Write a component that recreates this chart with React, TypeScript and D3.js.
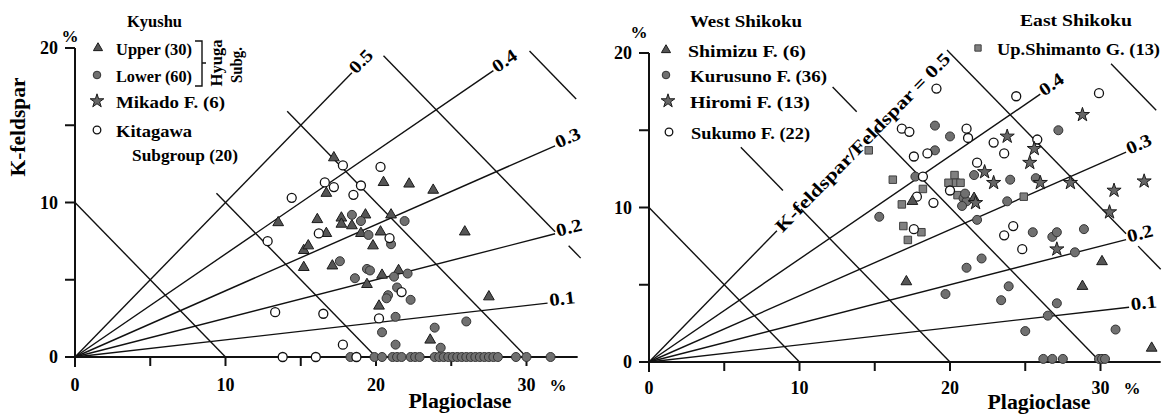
import React from 'react';
import * as d3 from 'd3';

type Pt = [number, number]; // [Plagioclase %, K-feldspar %]

// ---------- reference grid ----------
const ratioValues = [0.1, 0.2, 0.3, 0.4, 0.5];
const ratioLabels = ['0.1', '0.2', '0.3', '0.4', '0.5'];
const sumValues = [10, 20, 30, 40, 50];
const xTickValues = [0, 5, 10, 15, 20, 25, 30];
const xTickLabels = ['0', '10', '20', '30'];
const yTickValues = [0, 5, 10, 15, 20];
const yTickLabels = ['0', '10', '20'];

// ---------- Kyushu (left) ----------
const kyushuUpper: Pt[] = [
  [17.2, 12.9], [20.5, 11.3], [22.2, 11.2], [23.8, 10.8], [16.7, 10.6], [13.5, 8.7],
  [16.1, 8.9], [17.7, 9.0], [17.7, 8.6], [19.3, 9.2], [18.4, 8.5], [21.0, 9.2],
  [25.9, 8.1], [16.7, 8.0], [19.0, 8.0], [20.3, 8.1], [19.8, 7.2], [15.2, 6.9],
  [15.5, 7.2], [15.2, 5.8], [17.1, 5.9], [20.4, 5.3], [21.5, 5.6], [19.4, 4.7],
  [27.5, 3.9], [20.2, 3.3], [23.6, 1.1],
];
const kyushuLower: Pt[] = [
  [18.4, 9.2], [19.0, 8.8], [21.9, 8.8], [19.5, 7.9], [21.0, 7.3], [17.6, 6.2],
  [19.4, 5.7], [19.6, 5.6], [18.6, 5.1], [21.2, 5.2], [22.1, 5.4], [21.4, 4.5],
  [20.8, 4.0], [20.7, 3.8], [22.3, 3.7], [21.3, 2.6], [26.0, 2.3], [20.4, 1.6],
  [23.9, 1.9], [21.3, 0.8], [24.3, 0.6],
  [18.3, 0], [19.9, 0], [20.4, 0], [21.1, 0], [21.4, 0], [21.7, 0], [22.3, 0],
  [22.6, 0], [22.9, 0], [23.9, 0], [24.2, 0], [24.5, 0], [24.8, 0], [25.1, 0],
  [25.4, 0], [25.7, 0], [26.0, 0], [26.3, 0], [26.6, 0], [26.9, 0], [27.2, 0],
  [27.5, 0], [27.8, 0], [28.1, 0], [29.3, 0], [30.0, 0], [31.6, 0],
];
const kyushuMikado: Pt[] = [];
const kyushuKitagawa: Pt[] = [
  [13.8, 0], [16.0, 0], [18.7, 0], [12.8, 7.5], [13.3, 2.9], [14.4, 10.3],
  [16.6, 11.3], [17.2, 11.0], [17.8, 12.4], [20.3, 12.3], [19.0, 11.1], [18.5, 10.5],
  [16.2, 8.0], [20.9, 7.7], [21.7, 4.2], [16.5, 2.8], [20.2, 2.5], [17.8, 0.8],
];

// ---------- Shikoku (right) ----------
const shimizu: Pt[] = [[17.5, 10.4], [17.1, 5.2], [28.8, 4.9], [30.1, 6.5], [33.4, 0.9], [21.6, 10.6]];
const kurusuno: Pt[] = [
  [19.0, 15.3], [20.0, 14.6], [27.2, 15.0], [19.0, 13.7], [17.7, 12.0], [21.6, 12.1],
  [24.0, 11.8], [25.7, 11.9], [23.8, 10.4], [20.9, 10.6], [21.1, 10.4], [20.8, 10.1],
  [21.0, 10.9], [15.3, 9.4], [21.8, 9.2], [25.5, 8.4], [26.8, 8.1], [27.1, 8.4],
  [28.9, 8.6], [28.3, 7.1], [22.1, 6.7], [21.1, 6.1], [19.7, 4.4], [23.9, 4.9],
  [23.4, 4.0], [27.1, 3.8], [26.5, 3.0], [25.0, 2.0], [31.0, 2.1],
  [26.2, 0.2], [26.8, 0.2], [27.5, 0.2], [29.9, 0.2], [30.1, 0.2], [30.3, 0.2],
];
const hiromi: Pt[] = [
  [28.8, 16.0], [23.8, 14.6], [25.6, 13.8], [25.3, 12.9], [22.3, 12.3], [22.9, 11.6],
  [26.0, 11.6], [28.0, 11.6], [32.9, 11.7], [30.9, 11.1], [21.7, 10.3], [30.6, 9.7],
  [27.1, 7.3],
];
const sukumo: Pt[] = [
  [19.1, 17.7], [16.8, 15.1], [17.3, 14.9], [21.1, 15.1], [21.2, 14.5], [17.6, 13.3],
  [18.5, 13.5], [24.4, 17.2], [29.9, 17.4], [22.9, 14.2], [25.8, 14.4], [23.6, 13.5],
  [21.8, 12.9], [18.2, 12.0], [20.0, 11.1], [17.8, 10.7], [18.9, 10.3], [17.6, 8.6],
  [23.6, 8.2], [24.2, 8.8], [24.8, 7.3],
];
const upShimanto: Pt[] = [
  [14.6, 13.7], [16.2, 11.8], [18.2, 11.2], [16.8, 10.2], [16.9, 8.8], [18.1, 8.4],
  [17.2, 7.9], [20.3, 12.1], [20.4, 11.6], [19.9, 11.6], [20.7, 11.6], [20.5, 10.8],
  [24.9, 10.7],
];

// ---------- layout ----------
const FONT = "'Liberation Serif', 'DejaVu Serif', serif";
const PX_X = 15.05;
const PX_Y = 15.45;

type MarkerType = 'tri' | 'circ' | 'star' | 'open' | 'sq';

interface PanelCfg {
  x0: number;
  y0: number;
  xAxisEnd: number;
  ratioEnds: number[];
  sumSegments: number[][][];
  longRatioLabel: boolean;
  pctY: number;
  pctX: number;
  yTitle: boolean;
  titleX: number;
  titleY: number;
  xLabelY: number;
}

const leftCfg: PanelCfg = {
  x0: 75, y0: 357, xAxisEnd: 33.4,
  ratioEnds: [31.4, 31.9, 31.9, 27.8, 18.4],
  sumSegments: [[[0, 10]], [[9.4, 20]], [[14.1, 30]], [[20.5, 31.9], [32.8, 33.6]], [[30.2, 33.3]]],
  longRatioLabel: false, pctY: 42, pctX: 70, yTitle: true, titleX: 460, titleY: 408, xLabelY: 391,
};
const rightCfg: PanelCfg = {
  x0: 649, y0: 362, xAxisEnd: 34,
  ratioEnds: [31.9, 31.7, 31.7, 26.0, 8.5],
  sumSegments: [[[0, 10]], [[6.1, 8.9], [10.1, 20]], [[12.2, 13.8], [15.0, 30]], [[19.8, 31.7], [32.5, 34]], [[30.7, 33.7]]],
  longRatioLabel: true, pctY: 38, pctX: 639, yTitle: false, titleX: 1039, titleY: 409, xLabelY: 394,
};

const triPath = d3.symbol(d3.symbolTriangle, 50)()!;
const starPath = d3.symbol(d3.symbolStar, 62)()!;
const sqPath = d3.symbol(d3.symbolSquare, 56)()!;
const triPathS = d3.symbol(d3.symbolTriangle, 36)()!;
const starPathS = d3.symbol(d3.symbolStar, 58)()!;
const sqPathS = d3.symbol(d3.symbolSquare, 40)()!;

function Marker({ t, x, y, small }: { t: MarkerType; x: number; y: number; small?: boolean }) {
  const tr = `translate(${x},${y})`;
  switch (t) {
    case 'tri':
      return <path d={small ? triPathS : triPath} transform={tr} fill="#555" stroke="#1a1a1a" strokeWidth={1} />;
    case 'star':
      return <path d={small ? starPathS : starPath} transform={tr} fill="#666" stroke="#1a1a1a" strokeWidth={1} />;
    case 'sq':
      return <path d={small ? sqPathS : sqPath} transform={tr} fill="#808080" stroke="#404040" strokeWidth={1} />;
    case 'circ':
      return <circle cx={x} cy={y} r={small ? 3.8 : 4.5} fill="#707070" stroke="#333" strokeWidth={1} />;
    default:
      return <circle cx={x} cy={y} r={small ? 3.8 : 4.5} fill="#fff" stroke="#111" strokeWidth={1.3} />;
  }
}

function Panel({ cfg, series }: { cfg: PanelCfg; series: { t: MarkerType; pts: Pt[] }[] }) {
  const xs = d3.scaleLinear().domain([0, 10]).range([cfg.x0, cfg.x0 + 10 * PX_X]);
  const ys = d3.scaleLinear().domain([0, 10]).range([cfg.y0, cfg.y0 - 10 * PX_Y]);
  const line = d3.line<Pt>().x((d) => xs(d[0])).y((d) => ys(d[1]));
  const txt = { fontFamily: FONT, fontWeight: 700 } as const;

  return (
    <g>
      {/* sum lines P + K = const */}
      {sumValues.map((s, i) =>
        cfg.sumSegments[i].map((seg, j) => (
          <path key={`s${i}-${j}`} d={line([[seg[0], s - seg[0]], [seg[1], s - seg[1]]])!}
            stroke="#111" strokeWidth={1.4} fill="none" />
        ))
      )}
      {/* ratio lines K/(K+P) = r */}
      {ratioValues.map((r, i) => {
        const k = r / (1 - r);
        const pe = cfg.ratioEnds[i];
        const ex = xs(pe), ey = ys(pe * k);
        const ang = (Math.atan2(ys(0) - ys(10 * k), xs(10) - xs(0)) * 180) / Math.PI;
        const long = cfg.longRatioLabel && r === 0.5;
        return (
          <g key={`r${i}`}>
            <path d={line([[0, 0], [pe, pe * k]])!} stroke="#111" strokeWidth={1.4} fill="none" />
            {long ? (
              <text transform={`translate(${ex + 2},${ey - 1}) rotate(${-ang})`} fontSize={18}
                textLength={242} lengthAdjust="spacingAndGlyphs" {...txt} dy={5}>
                K-feldspar/Feldspar = 0.5
              </text>
            ) : (
              <text transform={`translate(${ex + 2},${ey}) rotate(${-ang})`} fontSize={18} {...txt}
                dy={3} textLength={26} lengthAdjust="spacingAndGlyphs">
                {ratioLabels[i]}
              </text>
            )}
          </g>
        );
      })}
      {/* axes */}
      <line x1={cfg.x0} x2={cfg.x0} y1={cfg.y0 + 10} y2={ys(20)} stroke="#111" strokeWidth={2} />
      <line x1={cfg.x0 - 10} x2={xs(cfg.xAxisEnd)} y1={cfg.y0} y2={cfg.y0} stroke="#111" strokeWidth={2} />
      {yTickValues.map((v) => (
        <line key={`yt${v}`} x1={cfg.x0 - 10} x2={cfg.x0} y1={ys(v)} y2={ys(v)} stroke="#111" strokeWidth={2} />
      ))}
      {xTickValues.map((v) => (
        <line key={`xt${v}`} x1={xs(v)} x2={xs(v)} y1={cfg.y0} y2={cfg.y0 + 9} stroke="#111" strokeWidth={2} />
      ))}
      {yTickLabels.map((l) => (
        <text key={`yl${l}`} x={cfg.x0 - 17} y={ys(+l) + 6} textAnchor="end" fontSize={18} {...txt}>{l}</text>
      ))}
      {xTickLabels.map((l) => (
        <text key={`xl${l}`} x={xs(+l)} y={cfg.xLabelY} textAnchor="middle" fontSize={18} {...txt}>{l}</text>
      ))}
      <text x={xs(32.1)} y={cfg.xLabelY} textAnchor="middle" fontSize={17} {...txt}>%</text>
      <text x={cfg.pctX} y={cfg.pctY} textAnchor="middle" fontSize={17} {...txt}>%</text>
      <text x={cfg.titleX} y={cfg.titleY} textAnchor="middle" fontSize={20} textLength={103}
        lengthAdjust="spacingAndGlyphs" {...txt}>Plagioclase</text>
      {cfg.yTitle && (
        <text transform="translate(25,127) rotate(-90)" textAnchor="middle" fontSize={20}
          textLength={99} lengthAdjust="spacingAndGlyphs" {...txt}>K-feldspar</text>
      )}
      {/* data */}
      {series.map((s, si) =>
        s.pts.map((p, pi) => <Marker key={`m${si}-${pi}`} t={s.t} x={xs(p[0])} y={ys(p[1])} />)
      )}
    </g>
  );
}

interface LegendItem { t: MarkerType | null; mx: number; my: number; label: string; tx: number; ty: number; w: number; }

const legendItems: LegendItem[] = [
  { t: null, mx: 0, my: 0, label: 'Kyushu', tx: 127, ty: 27, w: 55 },
  { t: 'tri', mx: 98, my: 48, label: 'Upper (30)', tx: 116, ty: 55, w: 76 },
  { t: 'circ', mx: 97, my: 75, label: 'Lower (60)', tx: 116, ty: 82, w: 76 },
  { t: 'star', mx: 97, my: 101, label: 'Mikado F. (6)', tx: 116, ty: 108, w: 109 },
  { t: 'open', mx: 97, my: 130, label: 'Kitagawa', tx: 116, ty: 137, w: 76 },
  { t: null, mx: 0, my: 0, label: 'Subgroup (20)', tx: 132, ty: 161, w: 106 },
  { t: null, mx: 0, my: 0, label: 'West Shikoku', tx: 690, ty: 27, w: 112 },
  { t: 'tri', mx: 666, my: 50, label: 'Shimizu F. (6)', tx: 688, ty: 57, w: 118 },
  { t: 'circ', mx: 666, my: 75, label: 'Kurusuno F. (36)', tx: 690, ty: 82, w: 137 },
  { t: 'star', mx: 668, my: 101, label: 'Hiromi F. (13)', tx: 690, ty: 108, w: 120 },
  { t: 'open', mx: 669, my: 132, label: 'Sukumo F. (22)', tx: 691, ty: 139, w: 119 },
  { t: null, mx: 0, my: 0, label: 'East Shikoku', tx: 1020, ty: 26, w: 112 },
  { t: 'sq', mx: 978, my: 48, label: 'Up.Shimanto G. (13)', tx: 997, ty: 55, w: 163 },
];

export default function App() {
  const txt = { fontFamily: FONT, fontWeight: 700 } as const;
  return (
    <svg width={1164} height={416} style={{ position: 'absolute', left: 0, top: 0, background: '#fff' }}>
      <rect width={1164} height={416} fill="#fff" />
      <Panel cfg={leftCfg} series={[
        { t: 'tri', pts: kyushuUpper },
        { t: 'circ', pts: kyushuLower },
        { t: 'star', pts: kyushuMikado },
        { t: 'open', pts: kyushuKitagawa },
      ]} />
      <Panel cfg={rightCfg} series={[
        { t: 'sq', pts: upShimanto },
        { t: 'circ', pts: kurusuno },
        { t: 'open', pts: sukumo },
        { t: 'tri', pts: shimizu },
        { t: 'star', pts: hiromi },
      ]} />
      {legendItems.map((it, i) => (
        <g key={`lg${i}`}>
          {it.t && <Marker t={it.t} x={it.mx} y={it.my} small />}
          <text x={it.tx} y={it.ty} fontSize={17} textLength={it.w} lengthAdjust="spacingAndGlyphs" {...txt}>{it.label}</text>
        </g>
      ))}
      {/* Hyuga Subg. bracket */}
      <path d="M195,41 H202 V86 H195 M202,63 H206" stroke="#111" strokeWidth={1.4} fill="none" />
      <text transform="translate(222,63) rotate(-90)" textAnchor="middle" fontSize={17} textLength={47}
        lengthAdjust="spacingAndGlyphs" {...txt}>Hyuga</text>
      <text transform="translate(242,65) rotate(-90)" textAnchor="middle" fontSize={17} textLength={36}
        lengthAdjust="spacingAndGlyphs" {...txt}>Subg.</text>
    </svg>
  );
}
